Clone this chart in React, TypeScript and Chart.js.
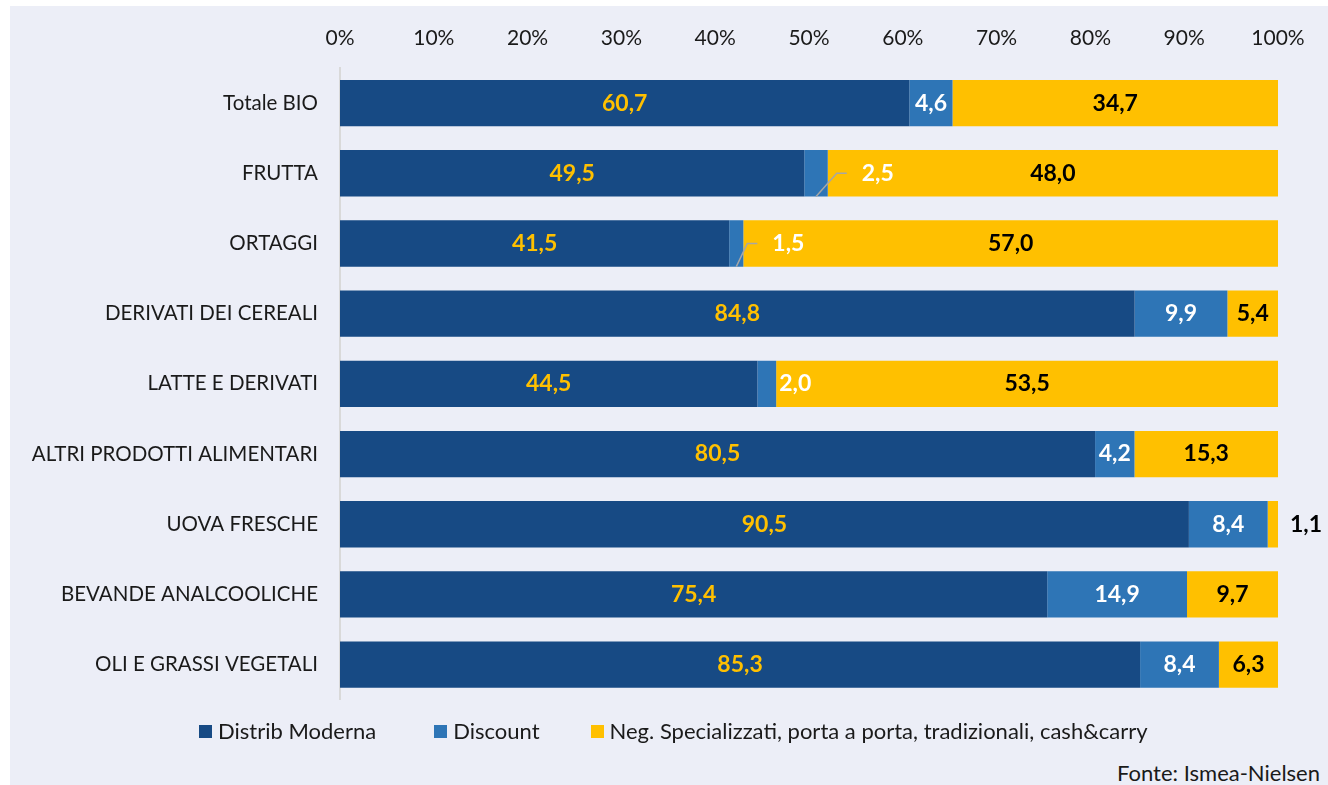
import React, { useEffect, useRef } from "react";
import { Chart, registerables } from "chart.js";

Chart.register(...registerables);

const categories = [
  "Totale BIO",
  "FRUTTA",
  "ORTAGGI",
  "DERIVATI DEI CEREALI",
  "LATTE E DERIVATI",
  "ALTRI PRODOTTI ALIMENTARI",
  "UOVA FRESCHE",
  "BEVANDE ANALCOOLICHE",
  "OLI E GRASSI VEGETALI",
];

const seriesNames = [
  "Distrib Moderna",
  "Discount",
  "Neg. Specializzati, porta a porta, tradizionali, cash&carry",
];

const distribModerna = [60.7, 49.5, 41.5, 84.8, 44.5, 80.5, 90.5, 75.4, 85.3];
const discount = [4.6, 2.5, 1.5, 9.9, 2.0, 4.2, 8.4, 14.9, 8.4];
const negSpecializzati = [34.7, 48.0, 57.0, 5.4, 53.5, 15.3, 1.1, 9.7, 6.3];

const xTicks = [0, 10, 20, 30, 40, 50, 60, 70, 80, 90, 100];

const sourceNote = "Fonte: Ismea-Nielsen";

const COLORS = ["#174A84", "#2E75B6", "#FFC000"];
const LABEL_COLORS = ["#FFC000", "#FFFFFF", "#000000"];
const FONT = "Lato";
const LEGEND_GAPS = [0, 58, 51];

// label placement exceptions (dataset index, category index)
const CALLOUTS = [
  { ds: 1, index: 1, mode: "leader", gap: 34, color: "#FFFFFF" },
  { ds: 1, index: 2, mode: "leader", gap: 29, color: "#FFFFFF" },
  { ds: 1, index: 4, mode: "beside", gap: 3, color: "#FFFFFF" },
  { ds: 2, index: 6, mode: "beside", gap: 12, color: "#000000" },
];

const RAW = [distribModerna, discount, negSpecializzati];

const fmt = (v: number) => v.toFixed(1).replace(".", ",");

const labelPlugin = {
  id: "segLabels",
  afterDatasetsDraw(chart: any) {
    const ctx = chart.ctx;
    ctx.save();
    ctx.font = `bold 23px ${FONT}`;
    ctx.textBaseline = "middle";
    chart.data.datasets.forEach((_ds: any, di: number) => {
      const meta = chart.getDatasetMeta(di);
      meta.data.forEach((bar: any, i: number) => {
        const { x, base, y, height } = bar.getProps(["x", "base", "y", "height"], true);
        const left = Math.min(x, base);
        const right = Math.max(x, base);
        const text = fmt(RAW[di][i]);
        const c = CALLOUTS.find((o) => o.ds === di && o.index === i);
        if (c) {
          const start = right + c.gap;
          if (c.mode === "leader") {
            ctx.strokeStyle = "#A6A6A6";
            ctx.lineWidth = 1.5;
            ctx.beginPath();
            ctx.moveTo((left + right) / 2, y + height / 2);
            ctx.lineTo(start - 25, y);
            ctx.lineTo(start - 15, y);
            ctx.stroke();
          }
          ctx.fillStyle = c.color;
          ctx.textAlign = "left";
          ctx.fillText(text, start, y);
        } else {
          ctx.fillStyle = LABEL_COLORS[di];
          ctx.textAlign = "center";
          ctx.fillText(text, (left + right) / 2, y);
        }
      });
    });
    ctx.restore();
  },
};

export default function App() {
  const ref = useRef<HTMLCanvasElement | null>(null);

  useEffect(() => {
    if (!ref.current) return;
    const series = [distribModerna, discount, negSpecializzati];
    const totals = categories.map((_, i) => series.reduce((s, arr) => s + arr[i], 0));
    const chart = new Chart(ref.current, {
      type: "bar",
      data: {
        labels: categories,
        datasets: series.map((arr, di) => ({
          label: seriesNames[di],
          data: arr.map((v, i) => (v / totals[i]) * 100),
          backgroundColor: COLORS[di],
          borderWidth: 0,
          barPercentage: 0.66,
          categoryPercentage: 1,
        })),
      },
      options: {
        indexAxis: "y",
        animation: false,
        responsive: false,
        maintainAspectRatio: false,
        layout: { padding: { left: 0, right: 50, top: 0, bottom: 8 } },
        plugins: {
          legend: { display: false },
          tooltip: { enabled: false },
        },
        scales: {
          x: {
            type: "linear",
            position: "top",
            stacked: true,
            min: 0,
            max: 100,
            afterBuildTicks: (scale: any) => {
              scale.ticks = xTicks.map((v) => ({ value: v }));
            },
            afterFit: (scale: any) => {
              scale.height = 62;
            },
            ticks: {
              callback: (v: any) => `${v}%`,
              font: { family: FONT, size: 21 },
              color: "#1a1a1a",
              padding: 17,
              maxRotation: 0,
            },
            grid: { display: false, drawTicks: false },
            border: { display: false },
          },
          y: {
            type: "category",
            stacked: true,
            afterFit: (scale: any) => {
              scale.width = 330;
            },
            ticks: {
              font: { family: FONT, size: 20.5 },
              color: "#1a1a1a",
              padding: 22,
            },
            grid: { display: false, drawTicks: false },
            border: { display: true, color: "#D9D9D9", width: 2 },
          },
        },
      },
      plugins: [labelPlugin],
    } as any);
    return () => chart.destroy();
  }, []);

  return (
    <div
      style={{
        position: "fixed",
        left: 0,
        top: 0,
        width: 1328,
        height: 785,
        background: "#FFFFFF",
        overflow: "hidden",
      }}
    >
      <div
        style={{
          position: "absolute",
          left: 10,
          top: 6,
          width: 1318,
          height: 779,
          background: "#ECEEF7",
          fontFamily: FONT,
        }}
      >
        <canvas ref={ref} width={1318} height={728} style={{ position: "absolute", left: 0, top: 0 }} />
        <div
          style={{
            position: "absolute",
            left: 189,
            top: 712,
            display: "flex",
            alignItems: "center",
            fontSize: 22,
            lineHeight: "26px",
            color: "#1a1a1a",
            whiteSpace: "nowrap",
          }}
        >
          {seriesNames.map((n, i) => (
            <div key={n} style={{ display: "flex", alignItems: "center", marginLeft: LEGEND_GAPS[i] }}>
              <span style={{ display: "inline-block", width: 13, height: 13, background: COLORS[i], marginRight: 6 }} />
              <span>{n}</span>
            </div>
          ))}
        </div>
        <div
          style={{
            position: "absolute",
            right: 8,
            top: 754,
            fontSize: 22,
            lineHeight: "26px",
            color: "#1a1a1a",
            whiteSpace: "nowrap",
          }}
        >
          {sourceNote}
        </div>
      </div>
    </div>
  );
}
